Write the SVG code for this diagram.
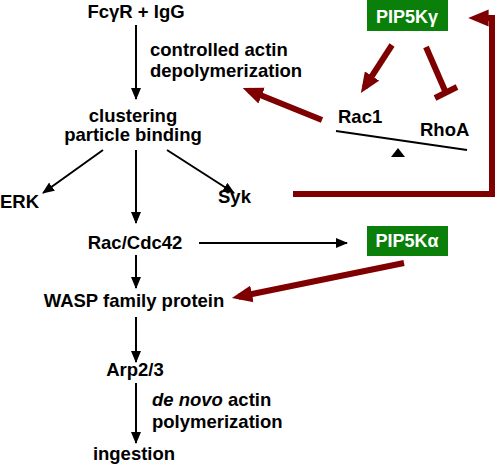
<svg xmlns="http://www.w3.org/2000/svg" width="500" height="465" viewBox="0 0 500 465">
<style>
text{font-family:"Liberation Sans",Arial,sans-serif;font-weight:bold;font-size:18.5px;fill:#000}
.c{text-anchor:middle}
.w{fill:#fff;font-size:18px}
.k{stroke:#000;stroke-width:2;fill:none}
.r{stroke:#7f0000;stroke-width:6;fill:none}
.box{fill:#0a800a}
</style>
<defs>
<marker id="ah" viewBox="0 0 12 10" refX="11" refY="5" markerWidth="6" markerHeight="5" orient="auto" markerUnits="strokeWidth"><path d="M0,0L12,5L0,10z" fill="#000"/></marker>
<marker id="rh" viewBox="0 0 12 10" refX="8" refY="5" markerWidth="3.4" markerHeight="2.9" orient="auto" markerUnits="strokeWidth"><path d="M0,0L12,5L0,10z" fill="#7f0000"/></marker>
</defs>
<g id="n-fcgr"><text class="c" x="136" y="18">FcγR + IgG</text></g>
<g id="n-cluster"><text class="c" x="133" y="122">clustering</text><text class="c" x="133" y="141">particle binding</text></g>
<g id="n-erk"><text x="0" y="208">ERK</text></g>
<g id="n-syk"><text x="218" y="203">Syk</text></g>
<g id="n-rac"><text class="c" x="135" y="249">Rac/Cdc42</text></g>
<g id="n-wasp"><text class="c" x="134" y="307">WASP family protein</text></g>
<g id="n-arp"><text class="c" x="135" y="376">Arp2/3</text></g>
<g id="n-ing"><text class="c" x="134" y="460">ingestion</text></g>
<g id="n-pip5kg"><rect class="box" x="367" y="0" width="81" height="31"/><text class="c w" x="407" y="23">PIP5Kγ</text></g>
<g id="n-pip5ka"><rect class="box" x="367" y="226" width="81" height="30"/><text class="c w" x="407" y="247">PIP5Kα</text></g>
<g id="n-rac1"><text x="338" y="123">Rac1</text></g>
<g id="n-rhoa"><text x="420" y="136">RhoA</text></g>
<g id="labels">
<text x="150" y="56">controlled actin</text>
<text x="150" y="77">depolymerization</text>
<text x="152" y="406"><tspan font-style="italic">de novo</tspan> actin</text>
<text x="152" y="428">polymerization</text>
</g>
<g id="seesaw">
<line x1="336" y1="131" x2="467" y2="150" stroke="#000" stroke-width="2"/>
<path d="M398,148L391,157L405,157z" fill="#000"/>
</g>
<g id="connectors">
<line class="k" x1="136" y1="25" x2="136" y2="99" marker-end="url(#ah)"/>
<line class="k" x1="103" y1="150" x2="43" y2="193" marker-end="url(#ah)"/>
<line class="k" x1="136" y1="150" x2="136" y2="223" marker-end="url(#ah)"/>
<line class="k" x1="167" y1="150" x2="234" y2="193" marker-end="url(#ah)"/>
<line class="k" x1="199" y1="243" x2="347" y2="243" marker-end="url(#ah)"/>
<line class="k" x1="136" y1="255" x2="136" y2="288" marker-end="url(#ah)"/>
<line class="k" x1="136" y1="317" x2="136" y2="362" marker-end="url(#ah)"/>
<line class="k" x1="136" y1="383" x2="136" y2="443" marker-end="url(#ah)"/>
<path class="r" d="M293,194H492V18H475" marker-end="url(#rh)"/>
<line class="r" x1="392" y1="45" x2="364.6" y2="87.4" marker-end="url(#rh)"/>
<line class="r" x1="426" y1="47" x2="446" y2="93"/>
<line class="r" x1="435" y1="98" x2="457" y2="87"/>
<line class="r" x1="322" y1="120" x2="249" y2="90.5" marker-end="url(#rh)"/>
<line class="r" x1="404" y1="263" x2="238.6" y2="296.7" marker-end="url(#rh)"/>
</g>
</svg>
